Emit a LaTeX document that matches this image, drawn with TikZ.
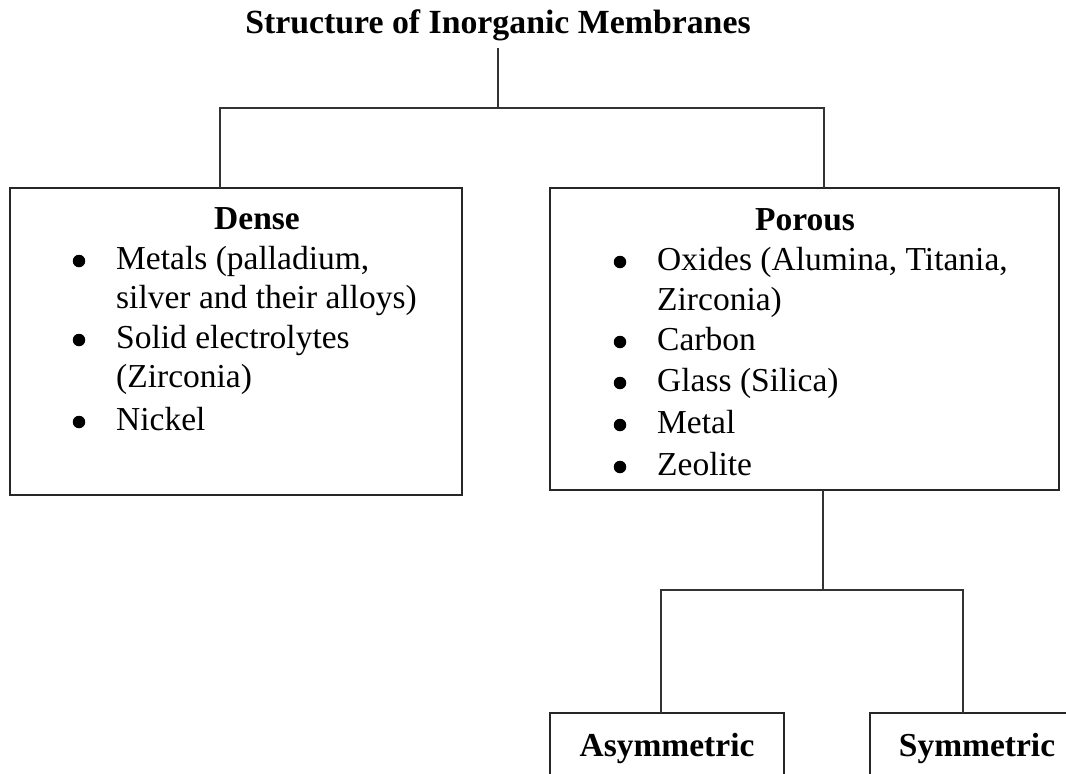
\documentclass[tikz,border=0pt]{standalone}
\usepackage{fontspec}
\setmainfont{Liberation Serif}
\begin{document}
\begin{tikzpicture}[x=1pt,y=-1pt,
  box/.style={draw=black!85,line width=1.8pt,inner sep=0pt,rectangle},
  conn/.style={draw=black!80,line width=1.3pt},
  txt/.style={inner sep=0pt,anchor=base west,font=\fontsize{33.5}{40}\selectfont},
  blt/.style={circle,fill=black,inner sep=0pt,minimum size=12.5pt},
  head/.style={inner sep=0pt,anchor=base,font=\fontsize{33.5}{40}\selectfont\bfseries},
  leaf/.style={box,text height=23pt,text depth=7pt,font=\fontsize{33.5}{40}\selectfont\bfseries}]
\useasboundingbox (0,0) rectangle (1066,774);
\clip (0,0) rectangle (1066,774);
% title
\node[inner sep=0pt,anchor=base,font=\fontsize{33.8}{40}\selectfont\bfseries] (title) at (498,33) {Structure of Inorganic Membranes};
% boxes
\node[box,minimum width=452pt,minimum height=307pt] (dense) at (236,341.5) {};
\node[box,minimum width=509pt,minimum height=302pt] (porous) at (804.5,339) {};
\node[leaf,minimum width=234pt,minimum height=70pt] (asym) at (667,748) {Asymmetric};
\node[leaf,minimum width=214pt,minimum height=70pt] (sym) at (977,748) {Symmetric};
% dense content
\node[head] (dh) at (257,229) {Dense};
\node[blt] (db1) at (79,261) {};
\node[txt] (dt1) at (116,269) {Metals (palladium,};
\node[txt] (dt2) at (116,308) {silver and their alloys)};
\node[blt] (db2) at (79,340) {};
\node[txt] (dt3) at (116,348) {Solid electrolytes};
\node[txt] (dt4) at (116,387) {(Zirconia)};
\node[blt] (db3) at (79,422) {};
\node[txt] (dt5) at (116,430) {Nickel};
% porous content
\node[head] (ph) at (805,230) {Porous};
\node[blt] (pb1) at (620,262) {};
\node[txt] (pt1) at (657,270) {Oxides (Alumina, Titania,};
\node[txt] (pt2) at (657,310) {Zirconia)};
\node[blt] (pb2) at (620,342) {};
\node[txt] (pt3) at (657,350) {Carbon};
\node[blt] (pb3) at (620,383) {};
\node[txt] (pt4) at (657,391) {Glass (Silica)};
\node[blt] (pb4) at (620,425) {};
\node[txt] (pt5) at (657,433) {Metal};
\node[blt] (pb5) at (620,467) {};
\node[txt] (pt6) at (657,475) {Zeolite};
% junctions
\coordinate (ts) at (498,48);
\coordinate (j1) at (498,108);
\coordinate (dtop) at (220,188);
\coordinate (ptop) at (824,188);
\coordinate (pbot) at (823,490);
\coordinate (j2) at (823,590);
\coordinate (atop) at (661,713);
\coordinate (stop) at (963,713);
% connectors
\draw[conn] (ts) -- (j1);
\draw[conn] (dtop) |- (j1) -| (ptop);
\draw[conn] (pbot) -- (j2);
\draw[conn] (atop) |- (j2) -| (stop);
\end{tikzpicture}
\end{document}
